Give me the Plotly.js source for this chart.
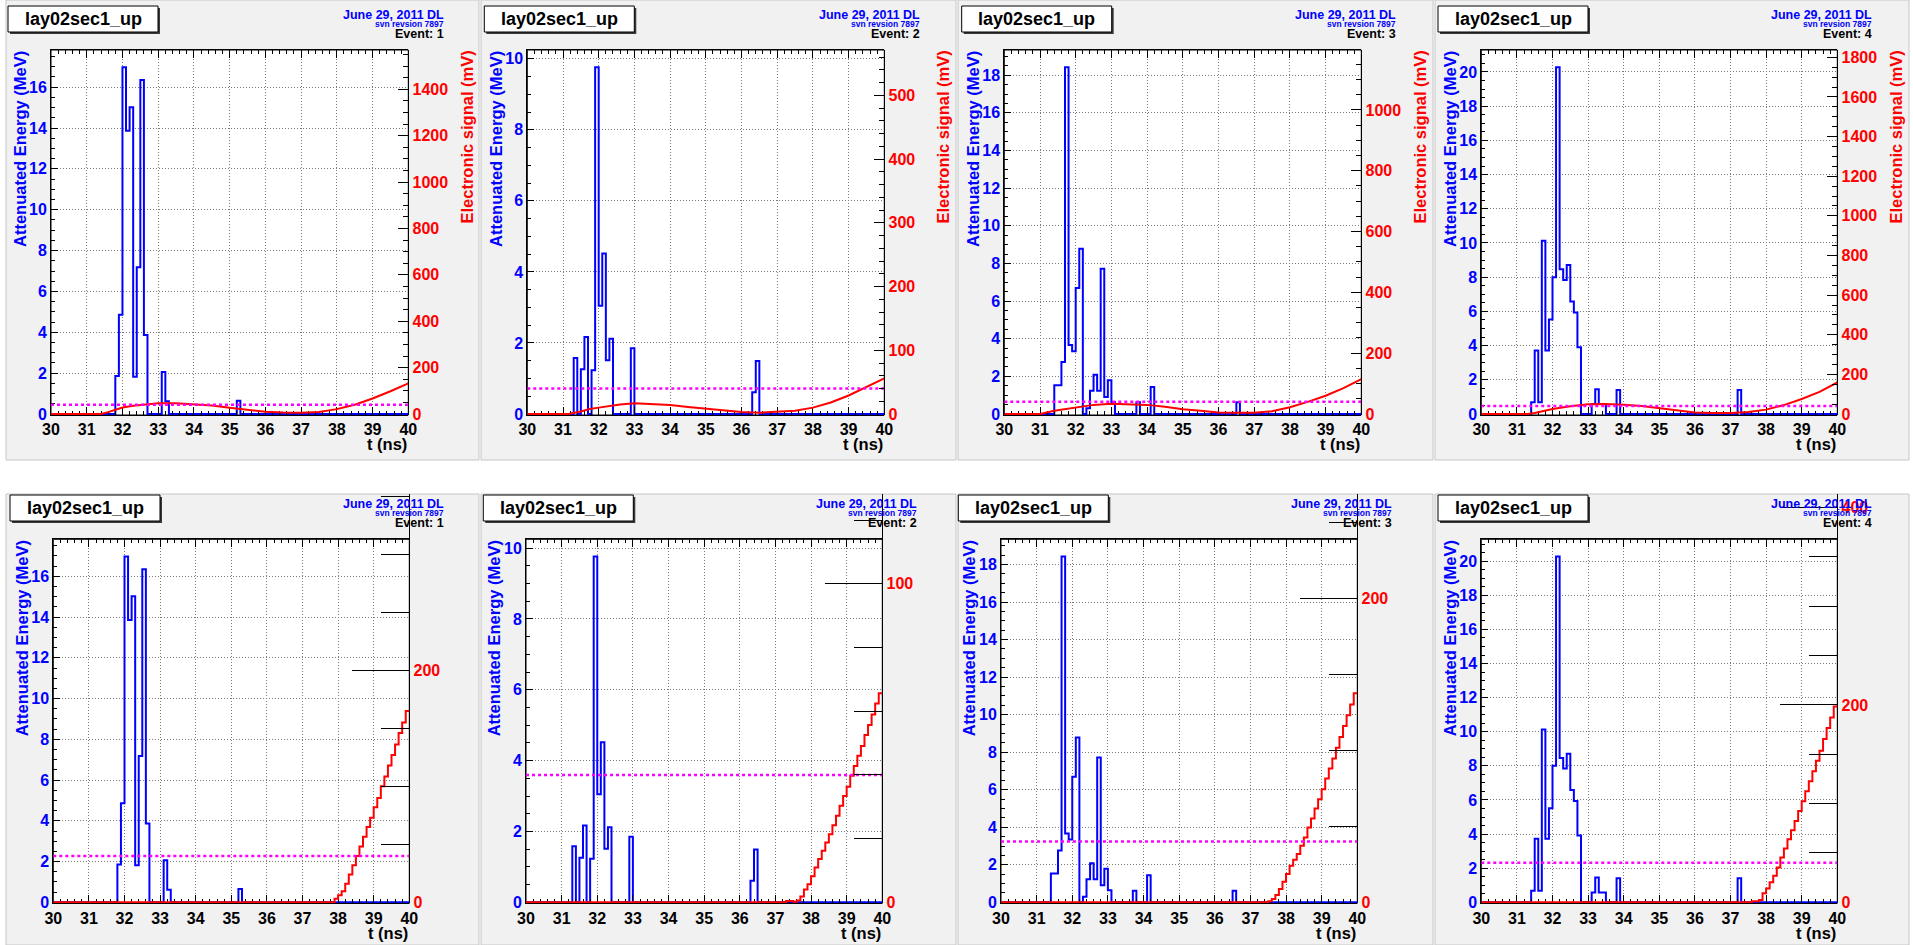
<!DOCTYPE html>
<html><head><meta charset="utf-8">
<script src="https://cdn.plot.ly/plotly-3.0.1.min.js"></script>
<style>html,body{margin:0;padding:0;background:#fff}#chart{width:1913px;height:945px}</style>
</head><body><div id="chart"></div>
<script>
// ---------------- DATA ----------------
const panelTitle = 'lay02sec1_up';
const dateText = 'June 29, 2011 DL';
const svnText = 'svn revsion 7897';
const eventLabels = ['Event: 1', 'Event: 2', 'Event: 3', 'Event: 4'];
const xTitle = 't (ns)';
const yLeftTitle = 'Attenuated Energy (MeV)';
const yRightTitle = 'Electronic signal (mV)';
const T_MIN = 30, T_MAX = 40, BIN_W = 0.1;
const thresholdMv = 40;

// attenuated energy histograms (bin low edge, MeV)
const ev1Bins = [31.8, 31.9, 32.0, 32.1, 32.2, 32.3, 32.4, 32.5, 32.6, 33.1, 33.2, 35.2];
const ev1Energy = [1.86, 4.86, 16.97, 13.86, 15.02, 1.82, 7.18, 16.35, 3.87, 2.06, 0.62, 0.65];
const ev2Bins = [31.3, 31.5, 31.6, 31.8, 31.9, 32.0, 32.1, 32.2, 32.3, 32.9, 36.3, 36.4];
const ev2Energy = [1.58, 1.26, 2.17, 1.23, 9.76, 3.05, 4.52, 1.51, 2.12, 1.85, 0.61, 1.49];
const ev3Bins = [31.4, 31.5, 31.6, 31.7, 31.8, 31.9, 32.0, 32.1, 32.3, 32.4, 32.5, 32.6, 32.7, 32.8, 32.9, 33.0, 33.7, 34.1, 36.5];
const ev3Energy = [1.53, 1.53, 2.76, 18.42, 3.66, 3.34, 6.69, 8.78, 0.3, 1.23, 2.08, 1.23, 7.72, 0.91, 1.79, 0.64, 0.62, 1.44, 0.62];
const ev4Bins = [31.4, 31.5, 31.6, 31.7, 31.8, 31.9, 32.0, 32.1, 32.2, 32.3, 32.4, 32.5, 32.6, 32.7, 33.1, 33.2, 33.3, 33.4, 33.8, 37.2];
const ev4Energy = [0.68, 3.72, 0.68, 10.13, 3.72, 5.52, 8.0, 20.27, 8.46, 7.84, 8.71, 6.58, 5.94, 3.91, 0.58, 1.45, 0.58, 0.58, 1.41, 1.41];

// electronic signal, upper row (t in ns, mV)
const sig1T = [30, 31.4, 31.6, 31.8, 32.0, 32.3, 32.7, 33.0, 33.5, 34.0, 34.5, 35.0, 35.5, 36.0, 36.5, 37.0, 37.5, 38.0, 38.5, 39.0, 39.5, 40.0];
const sig1Mv = [0, 0, 8, 19, 28, 36, 43, 46, 46, 43, 37, 27, 17, 10, 6, 5, 9, 21, 40, 67, 98, 132];
const sig2T = [30, 31.15, 31.5, 31.75, 32.0, 32.3, 32.6, 33.0, 33.4, 34.0, 34.5, 35.0, 35.5, 36.0, 36.5, 37.0, 37.5, 38.0, 38.5, 39.0, 39.5, 40.0];
const sig2Mv = [0, 0, 4, 8, 10, 13, 15, 17, 16, 14, 11, 8, 5, 3, 2, 3, 5, 10, 18, 29, 42, 56];
const sig3T = [30, 31.0, 31.4, 31.7, 32.0, 32.5, 33.0, 33.5, 34.0, 34.5, 35.0, 35.5, 36.0, 36.5, 37.0, 37.5, 38.0, 38.5, 39.0, 39.5, 40.0];
const sig3Mv = [0, 0, 11, 16, 22, 30, 34, 33, 30, 24, 16, 11, 5, 4, 4, 9, 22, 40, 60, 85, 115];
const sig4T = [30, 31.3, 31.5, 31.8, 32.0, 32.5, 33.0, 33.5, 34.0, 34.5, 35.0, 35.5, 36.0, 36.5, 37.0, 37.5, 38.0, 38.5, 39.0, 39.5, 40.0];
const sig4Mv = [0, 0, 5, 17, 25, 39, 49, 50, 47, 40, 29, 17, 8, 5, 5, 10, 22, 45, 76, 112, 159];

// electronic signal, lower row (first non-zero bin and per-bin mV)
const low1Start = 37.9;
const low1Mv = [3, 6, 9.5, 16, 24, 32, 40, 48, 56.5, 65, 73, 82, 90, 100, 108.5, 118, 127, 136, 146, 155, 165];
const low2Start = 37.3;
const low2Mv = [0.4, 0.4, 0.2, 0.6, 1.8, 4.0, 5.7, 8.2, 10.9, 13.6, 16.2, 18.8, 21.4, 24.2, 27.2, 30.3, 33.4, 36.3, 39.7, 42.8, 46.0, 49.1, 52.5, 55.7, 59.0, 62.4, 65.6];
const low3Start = 37.5;
const low3Mv = [0.7, 2.2, 4.8, 8.8, 13.6, 18.6, 24.1, 28.0, 31.8, 37.2, 42.7, 49.3, 55.2, 61.8, 67.9, 74.5, 81.5, 88.1, 94.6, 101.8, 108.8, 116.1, 123.1, 130.3, 137.6];
const low4Start = 37.6;
const low4Mv = [1, 1, 2.4, 9.1, 14.1, 20.2, 26.9, 35.3, 45.4, 54.5, 63.9, 72.9, 82.4, 92.4, 102.5, 112.6, 122.7, 132.8, 143.5, 153.6, 165.4, 176.5, 187.2, 198.3];

// right-axis extents (mV at top of the axis line)
const topRightMax = [1569, 571, 1197, 1837];
const botRightMax = [352, 128.2, 268.8, 413.7];
const rightMajor = [200, 100, 200, 200];
const rightMinor = [50, 20, 50, 50];

// ---------------- BUILD ----------------
const evBins = [ev1Bins, ev2Bins, ev3Bins, ev4Bins];
const evEnergy = [ev1Energy, ev2Energy, ev3Energy, ev4Energy];
const sigT = [sig1T, sig2T, sig3T, sig4T];
const sigMv = [sig1Mv, sig2Mv, sig3Mv, sig4Mv];
const lowStart = [low1Start, low2Start, low3Start, low4Start];
const lowMv = [low1Mv, low2Mv, low3Mv, low4Mv];

function histSteps(bins, vals) {
  const nb = Math.round((T_MAX - T_MIN) / BIN_W);
  const v = new Array(nb).fill(0);
  bins.forEach((b, k) => { v[Math.round((b - T_MIN) / BIN_W)] = vals[k]; });
  const x = [], y = [];
  for (let i = 0; i <= nb; i++) { x.push(+(T_MIN + i * BIN_W).toFixed(3)); y.push(v[Math.min(i, nb - 1)]); }
  return {x, y};
}
function lowSteps(start, vals) {
  const x = [T_MIN], y = [0];
  vals.forEach((v, k) => { x.push(+(start + k * BIN_W).toFixed(3)); y.push(v); });
  x.push(T_MAX); y.push(vals[vals.length - 1]);
  return {x, y};
}

const W = 1913, H = 945;
const px = x => x / W, py = y => 1 - y / H;
const FONT = 'Liberation Sans, Arial, Helvetica, sans-serif';
const BLUE = '#0000ff', RED = '#ff0000', MAG = '#ff00ff';
const GRID = '#7a7a7a', GRID_DASH = '1px,2px';

const panels = [
  {ev:0,row:0,fl:51,fr:408.3,ft:50,fb:415,gx0:6,gx1:479,gy0:0,gy1:460,bx:8,by:6,ir:444.5,btx:20,rtx:466},
  {ev:1,row:0,fl:527.3,fr:884.3,ft:50,fb:415,gx0:481,gx1:956,gy0:0,gy1:460,bx:484.3,by:6,ir:920.5,btx:496,rtx:942},
  {ev:2,row:0,fl:1004.3,fr:1361.3,ft:50,fb:415,gx0:958,gx1:1433,gy0:0,gy1:460,bx:961.7,by:6,ir:1397.3,btx:973,rtx:1419},
  {ev:3,row:0,fl:1481.3,fr:1837.3,ft:50,fb:415,gx0:1435,gx1:1909,gy0:0,gy1:460,bx:1438,by:6,ir:1873,btx:1450,rtx:1895},
  {ev:0,row:1,fl:53.3,fr:409.3,ft:539.3,fb:903.3,gx0:6,gx1:479,gy0:494,gy1:945,bx:10,by:495,ir:445.3,btx:22},
  {ev:1,row:1,fl:526,fr:882.3,ft:539.3,fb:903.3,gx0:481,gx1:956,gy0:494,gy1:945,bx:483.3,by:495,ir:918.3,btx:494},
  {ev:2,row:1,fl:1001,fr:1357.3,ft:539.3,fb:903.3,gx0:958,gx1:1433,gy0:494,gy1:945,bx:958.3,by:495,ir:1393.3,btx:969},
  {ev:3,row:1,fl:1481.3,fr:1837.3,ft:539.3,fb:903.3,gx0:1435,gx1:1909,gy0:494,gy1:945,bx:1438,by:495,ir:1873,btx:1450}
];

const traces = [];
const layout = {
  width: W, height: H, autosize: false,
  margin: {l:0, r:0, t:0, b:0},
  paper_bgcolor: '#ffffff', plot_bgcolor: 'rgba(0,0,0,0)',
  showlegend: false, shapes: [], annotations: []
};
const sfx = n => (n === 1 ? '' : String(n));
const tickFont = c => ({family: FONT, size: 16, color: c, weight: 'bold'});

panels.forEach((p, i) => {
  const e = p.ev;
  const nL = i + 1, nR = i + 9;
  const hH = p.fb - p.ft;
  const leftMax = Math.max(...evEnergy[e]) * 1.05;
  const rTop = p.row === 0 ? p.ft : p.gy0;
  const rH = p.fb - rTop;
  const rMax = p.row === 0 ? topRightMax[e] : botRightMax[e];

  // blue histogram
  const h = histSteps(evBins[e], evEnergy[e]);
  traces.push({x: h.x, y: h.y, type: 'scatter', mode: 'lines', line: {shape: 'hv', color: BLUE, width: 2},
    xaxis: 'x' + sfx(nL), yaxis: 'y' + sfx(nL), hoverinfo: 'skip'});
  // red signal
  if (p.row === 0) {
    traces.push({x: sigT[e], y: sigMv[e], type: 'scatter', mode: 'lines', line: {color: RED, width: 2},
      xaxis: 'x' + nR, yaxis: 'y' + nR, hoverinfo: 'skip'});
  } else {
    const s = lowSteps(lowStart[e], lowMv[e]);
    traces.push({x: s.x, y: s.y, type: 'scatter', mode: 'lines', line: {shape: 'hv', color: RED, width: 2},
      xaxis: 'x' + nR, yaxis: 'y' + nR, hoverinfo: 'skip'});
  }
  // threshold
  traces.push({x: [T_MIN, T_MAX], y: [thresholdMv, thresholdMv], type: 'scatter', mode: 'lines',
    line: {color: MAG, width: 2.5, dash: 'dot'}, xaxis: 'x' + nR, yaxis: 'y' + nR, hoverinfo: 'skip'});

  layout['xaxis' + sfx(nL)] = {
    domain: [px(p.fl), px(p.fr)], range: [T_MIN, T_MAX], anchor: 'y' + sfx(nL),
    tick0: 30, dtick: 1, ticks: 'inside', ticklen: 8, tickwidth: 1, tickcolor: '#000',
    mirror: 'ticks', showline: true, linecolor: '#000', linewidth: 1,
    showgrid: true, gridcolor: GRID, griddash: GRID_DASH, gridwidth: 1, zeroline: false,
    tickfont: tickFont('#000'),
    minor: {tick0: 30, dtick: 0.2, ticks: 'inside', ticklen: 4, tickcolor: '#000', showgrid: false}
  };
  layout['yaxis' + sfx(nL)] = {
    domain: [py(p.fb), py(p.ft)], range: [-leftMax / hH, leftMax], anchor: 'x' + sfx(nL), side: 'left',
    tick0: 0, dtick: 2, ticks: 'inside', ticklen: 7, tickwidth: 1, tickcolor: '#000',
    showline: true, linecolor: '#000', linewidth: 1,
    showgrid: true, gridcolor: GRID, griddash: GRID_DASH, gridwidth: 1, zeroline: false,
    tickfont: tickFont(BLUE),
    minor: {tick0: 0, dtick: 0.5, ticks: 'inside', ticklen: 4, tickcolor: '#000', showgrid: false}
  };
  layout['xaxis' + nR] = {domain: [px(p.fl), px(p.fr)], range: [T_MIN, T_MAX], anchor: 'y' + nR, visible: false};
  layout['yaxis' + nR] = {
    domain: [py(p.fb), py(rTop)], range: [-rMax / rH, rMax], anchor: 'x' + nR, side: 'right',
    tick0: 0, dtick: rightMajor[e], ticks: 'inside', ticklen: p.row === 0 ? 10 : 57, tickwidth: 1, tickcolor: '#000',
    showline: true, linecolor: '#000', linewidth: 1, showgrid: false, zeroline: false,
    tickfont: tickFont(RED),
    minor: {tick0: 0, dtick: rightMinor[e], ticks: 'inside', ticklen: p.row === 0 ? 5 : 28, tickcolor: '#000', showgrid: false}
  };

  // pad background
  layout.shapes.push({type: 'rect', xref: 'paper', yref: 'paper', layer: 'below',
    x0: px(p.gx0), x1: px(p.gx1), y0: py(p.gy1), y1: py(p.gy0),
    fillcolor: '#f1f1f1', line: {color: '#c6c6c6', width: 1}});
  // frame
  layout.shapes.push({type: 'rect', xref: 'paper', yref: 'paper', layer: 'below',
    x0: px(p.fl), x1: px(p.fr), y0: py(p.fb), y1: py(p.ft),
    fillcolor: '#ffffff', line: {color: '#000', width: 1}});
  // title box with shadow
  layout.shapes.push({type: 'rect', xref: 'paper', yref: 'paper', layer: 'above',
    x0: px(p.bx + 2), x1: px(p.bx + 152), y0: py(p.by + 28), y1: py(p.by + 2),
    fillcolor: '#3a3a3a', line: {width: 0}});
  layout.shapes.push({type: 'rect', xref: 'paper', yref: 'paper', layer: 'above',
    x0: px(p.bx), x1: px(p.bx + 150), y0: py(p.by + 26), y1: py(p.by),
    fillcolor: '#ffffff', line: {color: '#000', width: 1}});

  const ann = (text, x, y, xa, ya, size, color, angle) => layout.annotations.push({
    text, x: px(x), y: py(y), xref: 'paper', yref: 'paper', xanchor: xa, yanchor: ya,
    showarrow: false, textangle: angle || 0, borderpad: 0,
    font: {family: FONT, size, color, weight: 'bold'}});

  ann(panelTitle, p.bx + 75, p.by + 13, 'center', 'middle', 18, '#000');
  ann(dateText, p.ir, p.by + 9, 'right', 'middle', 12.5, BLUE);
  ann(svnText, p.ir, p.by + 18, 'right', 'middle', 8.5, BLUE);
  ann(eventLabels[e], p.ir, p.by + 27.8, 'right', 'middle', 12.5, '#000');
  ann(yLeftTitle, p.btx, p.ft, 'center', 'top', 16.5, BLUE, -90);
  if (p.row === 0) ann(yRightTitle, p.rtx, p.ft, 'center', 'top', 16.5, RED, -90);
  ann(xTitle, p.fr, p.fb + 29.5, 'right', 'middle', 16.5, '#000');
});

Plotly.newPlot('chart', traces, layout, {displayModeBar: false, staticPlot: true});
</script>
</body></html>
